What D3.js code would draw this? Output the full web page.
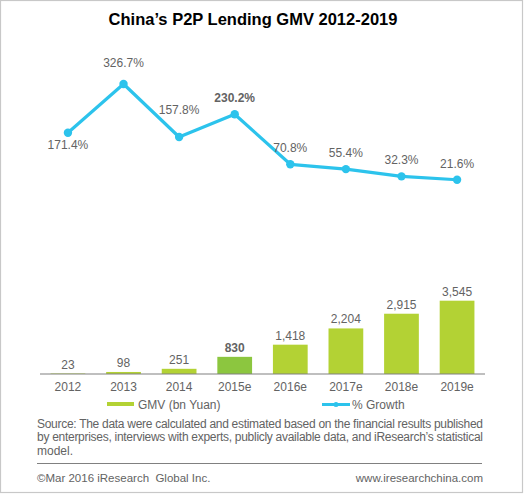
<!DOCTYPE html>
<html>
<head>
<meta charset="utf-8">
<script src="https://cdn.jsdelivr.net/npm/d3@7/dist/d3.min.js"></script>
<style>
  html, body { margin: 0; padding: 0; background: #fff; }
  svg { display: block; font-family: Arial, "Liberation Sans", sans-serif; }
  text { white-space: pre; }
</style>
</head>
<body>
<svg id="chart" width="524" height="495"></svg>
<script>
const categories = ["2012", "2013", "2014", "2015e", "2016e", "2017e", "2018e", "2019e"];
const gmvValues = [23, 98, 251, 830, 1418, 2204, 2915, 3545];
const gmvLabels = ["23", "98", "251", "830", "1,418", "2,204", "2,915", "3,545"];
const growthValues = [171.4, 326.7, 157.8, 230.2, 70.8, 55.4, 32.3, 21.6];
const growthLabels = ["171.4%", "326.7%", "157.8%", "230.2%", "70.8%", "55.4%", "32.3%", "21.6%"];
const highlightCategory = "2015e";
const legendLabels = ["GMV (bn Yuan)", "% Growth"];
const titleText = "China\u2019s P2P Lending GMV 2012-2019";
const sourceLines = [
  "Source: The data were calculated and estimated based on the financial results published",
  "by enterprises, interviews with experts, publicly available data, and iResearch\u2019s statistical",
  "model."
];
const footerLeft = "\u00A9Mar 2016 iResearch  Global Inc.";
const footerRight = "www.iresearchchina.com";

const svg = d3.select("#chart");
const barColor = "#b3d234";
const highlightColor = "#8cc63f";
const lineColor = "#2cc3ec";
const labelColor = "#636363";

// frame
svg.append("rect").attr("x", 0.5).attr("y", 0.5).attr("width", 522).attr("height", 492)
  .attr("fill", "none").attr("stroke", "#c8c8c8").attr("stroke-width", 1.2);

// title
svg.append("text").attr("x", 253).attr("y", 25).attr("text-anchor", "middle")
  .attr("font-size", 16.5).attr("font-weight", "bold").attr("fill", "#000").text(titleText);

const x = d3.scaleBand().domain(categories).range([40, 485]).paddingInner(0.375).paddingOuter(0.19);
const yBar = d3.scaleLinear().domain([0, 3545]).range([374, 300.7]);
const yLine = d3.scaleLinear().domain([0, 326.7]).range([186.5, 84]);

const data = categories.map((c, i) => ({
  cat: c, gmv: gmvValues[i], gmvLabel: gmvLabels[i], growth: growthValues[i], growthLabel: growthLabels[i], i
}));

// bars
svg.append("g").selectAll("rect").data(data).join("rect")
  .attr("x", d => x(d.cat))
  .attr("y", d => yBar(d.gmv))
  .attr("width", x.bandwidth())
  .attr("height", d => yBar(0) - yBar(d.gmv))
  .attr("fill", d => d.cat === highlightCategory ? highlightColor : barColor);

// bar labels
svg.append("g").selectAll("text").data(data).join("text")
  .attr("x", d => x(d.cat) + x.bandwidth() / 2)
  .attr("y", d => yBar(d.gmv) - 5)
  .attr("text-anchor", "middle")
  .attr("font-size", 12)
  .attr("font-weight", d => d.cat === highlightCategory ? "bold" : "normal")
  .attr("fill", labelColor)
  .text(d => d.gmvLabel);

// x axis
const xAxis = d3.axisBottom(x).tickSize(0).tickPadding(8);
const gx = svg.append("g").attr("transform", "translate(0,374)").call(xAxis);
gx.select(".domain").attr("stroke", "#808080").attr("stroke-width", 1.2).attr("d", "M40,0H485");
gx.selectAll("text").attr("font-size", 12).attr("fill", labelColor)
  .attr("font-family", "Arial, 'Liberation Sans', sans-serif");

// line
const cx = d => x(d.cat) + x.bandwidth() / 2;
const line = d3.line().x(cx).y(d => yLine(d.growth));
svg.append("path").datum(data).attr("d", line)
  .attr("fill", "none").attr("stroke", lineColor).attr("stroke-width", 3.2).attr("stroke-linejoin", "round");
svg.append("g").selectAll("circle").data(data).join("circle")
  .attr("cx", cx).attr("cy", d => yLine(d.growth)).attr("r", 4.2).attr("fill", lineColor);

// line labels: first point below; local minima lifted clear of the line; peaks slightly higher
function labelY(d) {
  const y = yLine(d.growth);
  if (d.i === 0) return y + 16;
  const prev = growthValues[d.i - 1], next = growthValues[d.i + 1];
  if (next !== undefined && prev > d.growth && next > d.growth) return y - 23;
  if (next !== undefined && prev < d.growth && next < d.growth && d.i === 1) return y - 17;
  return y - 12;
}
svg.append("g").selectAll("text").data(data).join("text")
  .attr("x", cx)
  .attr("y", labelY)
  .attr("text-anchor", "middle")
  .attr("font-size", 12)
  .attr("font-weight", d => d.cat === highlightCategory ? "bold" : "normal")
  .attr("fill", labelColor)
  .text(d => d.growthLabel);

// legend
const lg = svg.append("g");
lg.append("rect").attr("x", 107).attr("y", 402).attr("width", 27).attr("height", 4).attr("fill", barColor);
lg.append("text").attr("x", 138).attr("y", 409).attr("font-size", 12).attr("fill", labelColor).text(legendLabels[0]);
lg.append("line").attr("x1", 322).attr("x2", 350).attr("y1", 404.5).attr("y2", 404.5)
  .attr("stroke", lineColor).attr("stroke-width", 3);
lg.append("circle").attr("cx", 336).attr("cy", 404.5).attr("r", 2.5).attr("fill", lineColor);
lg.append("text").attr("x", 352).attr("y", 409).attr("font-size", 12).attr("fill", labelColor).text(legendLabels[1]);

// source text
const src = svg.append("g");
sourceLines.forEach((t, i) => {
  const el = src.append("text").attr("x", 37).attr("y", 427.5 + i * 13.7)
    .attr("font-size", 12).attr("fill", labelColor).text(t);
  if (i < sourceLines.length - 1) el.attr("textLength", 446).attr("lengthAdjust", "spacing");
});

// rule
svg.append("line").attr("x1", 37).attr("x2", 482).attr("y1", 463.5).attr("y2", 463.5)
  .attr("stroke", "#808080").attr("stroke-width", 1);

// footer
svg.append("text").attr("x", 37).attr("y", 481.5).attr("font-size", 11.5).attr("fill", labelColor).text(footerLeft);
svg.append("text").attr("x", 483).attr("y", 481.5).attr("text-anchor", "end").attr("font-size", 11.5).attr("fill", labelColor).text(footerRight);
</script>
</body>
</html>
